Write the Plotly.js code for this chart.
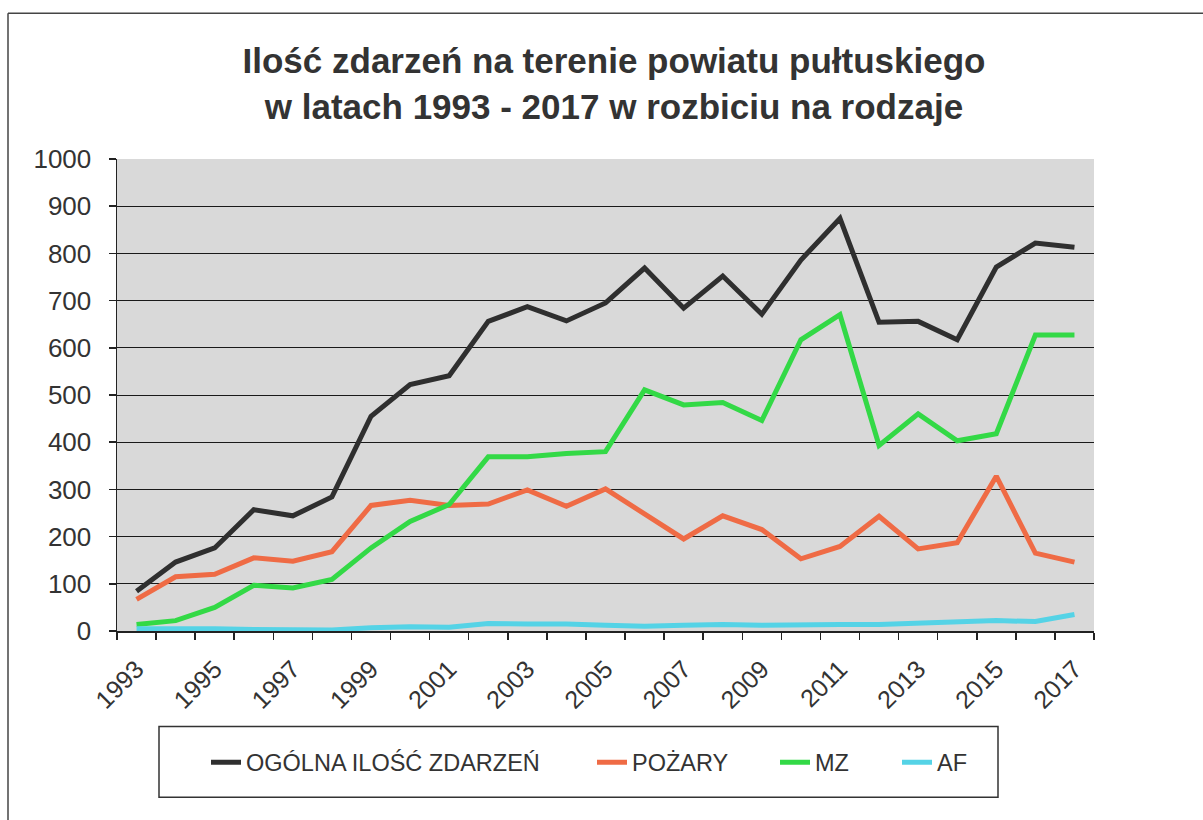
<!DOCTYPE html>
<html>
<head>
<meta charset="utf-8">
<script src="https://cdn.plot.ly/plotly-3.0.1.min.js"></script>
<style>
html,body{margin:0;padding:0;background:#fff;}
#chart{width:1203px;height:820px;}
</style>
</head>
<body>
<div id="chart"></div>
<script>
const years = [1993,1994,1995,1996,1997,1998,1999,2000,2001,2002,2003,2004,2005,2006,2007,2008,2009,2010,2011,2012,2013,2014,2015,2016,2017];
const ogolna = [84,146,176,257,244,284,455,522,541,656,687,657,695,769,684,752,671,786,874,654,656,617,771,822,813];
const pozary = [67,115,120,155,148,168,266,277,266,269,299,264,301,247,195,244,215,153,179,243,174,187,328,165,146];
const mz = [14,22,50,97,91,109,176,232,268,369,369,376,380,511,479,484,446,617,670,393,460,403,418,627,627];
const af = [5,6,5,3,2,2,7,9,8,16,15,15,12,10,12,14,12,14,14,14,16,18,22,20,35];
const seriesNames = ["OGÓLNA ILOŚĆ ZDARZEŃ","POŻARY","MZ","AF"];
const tickYears = [1993,1995,1997,1999,2001,2003,2005,2007,2009,2011,2013,2015,2017];
const titleText = "Ilość zdarzeń na terenie powiatu pułtuskiego<br>w latach 1993 - 2017 w rozbiciu na rodzaje";

const colors = ["#2f2f2f","#ef6b45","#33d946","#55d3e6"];
const seriesData = [ogolna, pozary, mz, af];
const legendIds = ["legend","legend2","legend3","legend4"];

const traces = seriesData.map((d,i)=>({
  type:"scatter", mode:"lines", x:years, y:d, name:seriesNames[i],
  legend:legendIds[i],
  line:{color:colors[i], width:5}
}));

const W=1203,H=820;
const L=117,R=1094,T=159,B=631.5;
const pw=R-L, ph=B-T;
function px(x){return (x-L)/pw;}
function py(y){return (B-y)/ph;}

const legendTextStarts = [247,633,816,938];
const legFont = {size:23.5, color:"#333333", family:"Liberation Sans, Arial, sans-serif"};

const layout = {
  width:W, height:H,
  paper_bgcolor:"#ffffff",
  plot_bgcolor:"#d9d9d9",
  margin:{l:L, r:W-R, t:T, b:H-B, pad:0},
  font:{family:"Liberation Sans, Arial, sans-serif", color:"#333333"},
  title:{text:titleText, font:{size:35, color:"#333333", family:"Liberation Sans, Arial, sans-serif", weight:"bold"},
         x:614/W, xanchor:"center", xref:"container", y:1-73/H, yanchor:"middle", yref:"container"},
  showlegend:true,
  xaxis:{type:"linear", range:[1992.5,2017.5], tickmode:"array", tickvals:tickYears,
         ticktext:tickYears.map(String), tickangle:-45, ticks:"", ticklen:0, ticklabelstandoff:12,
         tickfont:{size:25, color:"#333333"},
         showgrid:false, zeroline:false, showline:true, linecolor:"#222222", linewidth:1.5,
         minor:{ticks:"outside", tick0:1992.5, dtick:1, ticklen:7, tickcolor:"#222222", tickwidth:1.5, showgrid:false},
         fixedrange:true},
  yaxis:{range:[0,1000], dtick:100, tick0:0, ticks:"outside", ticklen:7, tickcolor:"#222222", tickwidth:1.5,
         ticklabelstandoff:12,
         tickfont:{size:26, color:"#333333"},
         showgrid:true, gridcolor:"#1a1a1a", gridwidth:1,
         zeroline:false, showline:true, linecolor:"#222222", linewidth:1.5, fixedrange:true},
  shapes:[
    {type:"line", xref:"paper", yref:"paper", x0:px(8), x1:px(8), y0:py(13), y1:py(840), line:{color:"#444444", width:1.5}},
    {type:"line", xref:"paper", yref:"paper", x0:px(8), x1:px(1220), y0:py(13), y1:py(13), line:{color:"#444444", width:1.5}},
    {type:"rect", xref:"paper", yref:"paper", x0:px(159), x1:px(998), y0:py(727), y1:py(798), line:{color:"#333333", width:1.5}, fillcolor:"rgba(0,0,0,0)"}
  ]
};
legendIds.forEach((id,i)=>{
  layout[id] = {orientation:"h", x:px(legendTextStarts[i]-41), xanchor:"left", y:py(763), yanchor:"middle",
    bgcolor:"rgba(0,0,0,0)", borderwidth:0, font:legFont};
});

Plotly.newPlot("chart", traces, layout, {staticPlot:true, displayModeBar:false});
</script>
</body>
</html>
